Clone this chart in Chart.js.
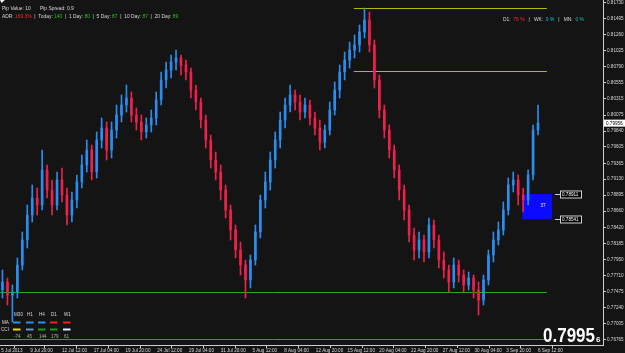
<!DOCTYPE html>
<html>
<head>
<meta charset="utf-8">
<script src="https://cdn.jsdelivr.net/npm/chart.js@4.4.0/dist/chart.umd.min.js"></script>
<style>
html, body { margin: 0; padding: 0; background: #141414; }
#wrap { width: 625px; height: 353px; }
</style>
</head>
<body>
<div id="wrap"><canvas id="chart"></canvas></div>
<script>
// H4 candles, each one covers 2.5 bars on the screen (about 10 hours)
var opens = [
  0.77498,0.77616,0.77424,0.77469,0.77866,0.78235,0.78603,0.78853,0.78750,0.79266,
  0.78971,0.78750,0.79119,0.78898,0.78603,0.78824,0.79089,0.79340,0.79561,0.79236,
  0.79708,0.79885,0.79561,0.79855,0.80076,0.80223,0.80326,0.80076,0.79973,0.79826,
  0.79929,0.80032,0.80297,0.80592,0.80739,0.80857,0.80916,0.80813,0.80709,0.80444,
  0.80268,0.80002,0.79708,0.79413,0.79236,0.78971,0.78677,0.78382,0.78087,0.77866,
  0.77646,0.77940,0.78353,0.78824,0.79089,0.79413,0.79708,0.80002,0.80223,0.80371,
  0.80268,0.80120,0.80223,0.80032,0.79885,0.79678,0.79855,0.80150,0.80444,0.80709,
  0.80886,0.81034,0.81107,0.81299,0.81475,0.81107,0.80592,0.80150,0.79855,0.79561,
  0.79266,0.78971,0.78677,0.78308,0.78087,0.78235,0.78058,0.78456,0.78235,0.77940,
  0.77793,0.77616,0.77866,0.77719,0.77572,0.77675,0.77498,0.77351,0.77646,0.78014,
  0.78235,0.78382,0.78677,0.79045,0.79119,0.78898,0.78824,0.79192,0.79855
];
var highs = [
  0.77793,0.77675,0.77572,0.77970,0.78353,0.78750,0.79045,0.79001,0.79561,0.79340,
  0.79119,0.79236,0.79295,0.79001,0.78942,0.79192,0.79487,0.79708,0.79634,0.79826,
  0.80032,0.79973,0.79973,0.80223,0.80371,0.80518,0.80415,0.80179,0.80076,0.80032,
  0.80150,0.80415,0.80709,0.80857,0.80960,0.81034,0.80960,0.80886,0.80768,0.80518,
  0.80326,0.80076,0.79781,0.79531,0.79340,0.79045,0.78750,0.78456,0.78205,0.77940,
  0.78014,0.78456,0.78898,0.79236,0.79531,0.79826,0.80120,0.80326,0.80518,0.80444,
  0.80371,0.80326,0.80297,0.80120,0.80002,0.79929,0.80268,0.80562,0.80813,0.81004,
  0.81151,0.81254,0.81402,0.81652,0.81593,0.81181,0.80665,0.80223,0.79929,0.79634,
  0.79340,0.79045,0.78750,0.78411,0.78353,0.78308,0.78559,0.78529,0.78308,0.78058,
  0.77866,0.77970,0.77940,0.77793,0.77763,0.77719,0.77616,0.77719,0.78087,0.78353,
  0.78500,0.78795,0.79148,0.79236,0.79192,0.79001,0.79266,0.79929,0.80223
];
var lows = [
  0.77380,0.77277,0.77027,0.77380,0.77793,0.78117,0.78500,0.78603,0.78677,0.78853,
  0.78603,0.78677,0.78795,0.78456,0.78500,0.78706,0.79001,0.79236,0.79119,0.79148,
  0.79590,0.79413,0.79443,0.79737,0.79973,0.80120,0.79973,0.79855,0.79708,0.79737,
  0.79826,0.79929,0.80223,0.80474,0.80621,0.80739,0.80665,0.80592,0.80326,0.80150,
  0.79885,0.79590,0.79295,0.79119,0.78824,0.78559,0.78235,0.77970,0.77719,0.77380,
  0.77528,0.77866,0.78264,0.78706,0.78971,0.79295,0.79590,0.79885,0.80120,0.80150,
  0.80002,0.80032,0.79929,0.79781,0.79561,0.79590,0.79781,0.80076,0.80326,0.80592,
  0.80768,0.80916,0.81004,0.81210,0.81004,0.80474,0.80032,0.79737,0.79443,0.79148,
  0.78824,0.78529,0.78205,0.77940,0.77970,0.77911,0.77970,0.78117,0.77822,0.77675,
  0.77469,0.77528,0.77616,0.77469,0.77498,0.77380,0.77130,0.77277,0.77572,0.77911,
  0.78161,0.78308,0.78603,0.78942,0.78750,0.78647,0.78750,0.79119,0.79781
];
var closes = [
  0.77616,0.77424,0.77469,0.77866,0.78235,0.78603,0.78853,0.78750,0.79266,0.78971,
  0.78750,0.79119,0.78898,0.78603,0.78824,0.79089,0.79340,0.79561,0.79236,0.79708,
  0.79885,0.79561,0.79855,0.80076,0.80223,0.80326,0.80076,0.79973,0.79826,0.79929,
  0.80032,0.80297,0.80592,0.80739,0.80857,0.80916,0.80813,0.80709,0.80444,0.80268,
  0.80002,0.79708,0.79413,0.79236,0.78971,0.78677,0.78382,0.78087,0.77866,0.77646,
  0.77940,0.78353,0.78824,0.79089,0.79413,0.79708,0.80002,0.80223,0.80371,0.80268,
  0.80120,0.80223,0.80032,0.79885,0.79678,0.79855,0.80150,0.80444,0.80709,0.80886,
  0.81034,0.81107,0.81299,0.81475,0.81107,0.80592,0.80150,0.79855,0.79561,0.79266,
  0.78971,0.78677,0.78308,0.78087,0.78235,0.78058,0.78456,0.78235,0.77940,0.77793,
  0.77616,0.77866,0.77719,0.77572,0.77675,0.77498,0.77351,0.77646,0.78014,0.78235,
  0.78382,0.78677,0.79045,0.79119,0.78898,0.78824,0.79192,0.79855,0.79956
];

// time axis labels (first one is the left edge of the chart)
var timeLabels = ["5 Jul 2013", "9 Jul 20:00", "12 Jul 12:00", "17 Jul 04:00", "19 Jul 20:00",
  "24 Jul 12:00", "29 Jul 04:00", "31 Jul 20:00", "5 Aug 12:00", "8 Aug 04:00", "12 Aug 20:00",
  "15 Aug 12:00", "20 Aug 04:00", "22 Aug 20:00", "27 Aug 12:00", "30 Aug 04:00",
  "3 Sep 20:00", "6 Sep 12:00"];

// price axis labels
var priceTicks = [0.81730, 0.81495, 0.81260, 0.81025, 0.80790, 0.80555, 0.80315, 0.80075,
  0.79840, 0.79605, 0.79365, 0.79130, 0.78895, 0.78660, 0.78420, 0.78185, 0.77950, 0.77710,
  0.77475, 0.77240, 0.77005, 0.76765];

// horizontal levels drawn on the chart
var yellowLevels = [0.81652, 0.80720];
var greenLevels = [0.77469, 0.76780];
var boxLevels = [0.78911, 0.78541];
var boxPips = "37";
var lastPrice = 0.79956;

// side panels
var adrParts = [["ADR: ", "w"], ["169.3%", "r"], ["  |  Today: ", "w"], ["140", "g"], ["  |  1 Day: ", "w"], ["80", "g"],
  ["  |  5 Day: ", "w"], ["87", "g"], ["  |  10 Day: ", "w"], ["87", "g"], ["  |  20 Day: ", "w"], ["89", "g"]];
var rangeParts = [["D1:  ", "w"], ["76 %", "r"], ["   |   WK:  ", "w"], ["0 %", "c"], ["   |   MN:  ", "w"], ["0 %", "c"]];
var tfNames = ["M30", "H1", "H4", "D1", "W1"];
var maColors = ["#2a8df0", "#2a8df0", "#2a8df0", "#ff1a1a", "#ff1a1a"];
var cciColors = ["#e8e000", "#5b9bd5", "#1a9a1a", "#1a9a1a", "#dff2ff"];
var cciValues = ["-74", "45", "144", "179", "61"];

var BULL = "#2a8df0", BEAR = "#f0204a";
var barsPerCandle = 2.5;
var posOf = function (i) { return barsPerCandle / 2 + barsPerCandle * i; };

var bodies = [], wicks = [], colors = [];
for (var i = 0; i < opens.length; i++) {
  bodies.push({ x: posOf(i), y: [opens[i], closes[i]] });
  wicks.push({ x: posOf(i), y: [lows[i], highs[i]] });
  colors.push(closes[i] >= opens[i] ? BULL : BEAR);
}

var timeTickPos = [0];
for (var k = 1; k < timeLabels.length; k++) timeTickPos.push(14.6 + 16 * (k - 1));

var SMALL = "4.6px 'Liberation Sans', Arial, sans-serif";
var txtColors = { w: "#d8d8d8", r: "#ff2a2a", g: "#22c322", c: "#10c8c8" };

function drawParts(ctx, parts, x, y) {
  ctx.textAlign = "left";
  ctx.textBaseline = "middle";
  parts.forEach(function (p) {
    ctx.fillStyle = txtColors[p[1]];
    ctx.fillText(p[0], x, y);
    x += ctx.measureText(p[0]).width;
  });
}

var overlay = {
  id: "overlay",
  beforeDraw: function (chart) {
    var ctx = chart.ctx;
    ctx.save();
    ctx.fillStyle = "#141414";
    ctx.fillRect(0, 0, chart.width, chart.height);
    ctx.restore();
  },
  beforeDatasetsDraw: function (chart) {
    var ctx = chart.ctx, x = chart.scales.x, y = chart.scales.y;
    ctx.save();
    // pip box
    var bx1 = x.getPixelForValue(263.2), bx2 = x.getPixelForValue(278.3);
    var by1 = y.getPixelForValue(boxLevels[0]), by2 = y.getPixelForValue(boxLevels[1]);
    ctx.fillStyle = "#0a0aff";
    ctx.fillRect(bx1, by1, bx2 - bx1, by2 - by1);
    ctx.fillStyle = "#e8e8ff";
    ctx.font = SMALL;
    ctx.textAlign = "center";
    ctx.textBaseline = "middle";
    ctx.fillText(boxPips, bx1 + 21, (by1 + by2) / 2 - 1);
    // levels
    var right = x.getPixelForValue(275.7);
    ctx.lineWidth = 1;
    ctx.strokeStyle = "#b8b800";
    yellowLevels.forEach(function (v) {
      var py = Math.round(y.getPixelForValue(v)) + 0.5;
      ctx.beginPath(); ctx.moveTo(x.getPixelForValue(178.4), py); ctx.lineTo(right, py); ctx.stroke();
    });
    ctx.strokeStyle = "#1fae1f";
    greenLevels.forEach(function (v) {
      var py = Math.round(y.getPixelForValue(v)) + 0.5;
      ctx.beginPath(); ctx.moveTo(0, py); ctx.lineTo(right, py); ctx.stroke();
    });
    ctx.restore();
  },
  afterDraw: function (chart) {
    var ctx = chart.ctx, x = chart.scales.x, y = chart.scales.y;
    ctx.save();
    ctx.font = SMALL;
    // box price tags
    boxLevels.forEach(function (v) {
      var py = Math.round(y.getPixelForValue(v)) + 0.5;
      ctx.strokeStyle = "#d0d0d0";
      ctx.beginPath(); ctx.moveTo(x.getPixelForValue(278.3) + 3, py); ctx.lineTo(560, py); ctx.stroke();
      ctx.fillStyle = "#000";
      ctx.fillRect(560, py - 3.5, 21, 7);
      ctx.strokeRect(560.5, py - 3.5, 21, 7);
      ctx.fillStyle = "#ffffff";
      ctx.textAlign = "left"; ctx.textBaseline = "middle";
      ctx.fillText(v.toFixed(5), 562, py + 0.3);
    });
    // last price tag on the axis
    var lp = y.getPixelForValue(lastPrice);
    ctx.fillStyle = "#ffffff";
    ctx.fillRect(604, lp - 3.5, 21, 7);
    ctx.fillStyle = "#000000";
    ctx.textAlign = "left"; ctx.textBaseline = "middle";
    ctx.fillText(lastPrice.toFixed(5), 606, lp + 0.3);
    // top left info
    ctx.fillStyle = "#f0f0f0";
    ctx.beginPath(); ctx.moveTo(0, 0); ctx.lineTo(5, 0); ctx.lineTo(1.5, 3); ctx.closePath(); ctx.fill();
    ctx.font = "4.9px 'Liberation Sans', Arial, sans-serif";
    drawParts(ctx, [["Pip Value: 10", "w"]], 2, 8.5);
    drawParts(ctx, [["Pip Spread: 0.9", "w"]], 40, 8.5);
    drawParts(ctx, adrParts, 2, 17);
    drawParts(ctx, rangeParts, 503, 20);
    // timeframe table
    ctx.font = SMALL;
    var cols = [13, 26, 38, 50, 63];
    ctx.fillStyle = "#d8d8d8";
    ctx.textAlign = "left"; ctx.textBaseline = "middle";
    tfNames.forEach(function (n, j) { ctx.fillText(n, cols[j] + 1, 315); });
    ctx.fillText("MA", 2, 322.5);
    ctx.fillText("CCI", 1, 329.5);
    maColors.forEach(function (c, j) { ctx.fillStyle = c; ctx.fillRect(cols[j], 321.5, 7.5, 2); });
    cciColors.forEach(function (c, j) { ctx.fillStyle = c; ctx.fillRect(cols[j], 328.5, 7.5, 2); });
    ctx.fillStyle = "#b0b0b0";
    cciValues.forEach(function (v, j) { ctx.fillText(v, cols[j] + 1, 337); });
    // big last price
    ctx.fillStyle = "#ffffff";
    ctx.textBaseline = "alphabetic";
    ctx.font = "bold 20px 'Liberation Sans', Arial, sans-serif";
    var big = lastPrice.toFixed(5);
    ctx.fillText(big.slice(0, 6), 543, 342, 52);
    ctx.font = "bold 8px 'Liberation Sans', Arial, sans-serif";
    ctx.fillText(big.slice(6), 596, 342);
    ctx.restore();
  }
};

new Chart(document.getElementById("chart"), {
  type: "bar",
  data: {
    datasets: [
      { label: "body", data: bodies, backgroundColor: colors, barThickness: 2, grouped: false, borderWidth: 0 },
      { label: "wick", data: wicks, backgroundColor: colors, barThickness: 1, grouped: false, borderWidth: 0 }
    ]
  },
  options: {
    responsive: true,
    maintainAspectRatio: false,
    animation: false,
    layout: { padding: 0 },
    plugins: { legend: { display: false }, tooltip: { enabled: false } },
    scales: {
      x: {
        type: "linear",
        min: 0,
        max: 304,
        offset: false,
        grid: { display: true, drawOnChartArea: false, tickLength: 3, color: "#cfcfcf" },
        border: { display: true, color: "#cfcfcf" },
        ticks: {
          autoSkip: false, maxRotation: 0, align: "start", padding: 0,
          color: "#d8d8d8", font: { family: "'Liberation Sans', Arial, sans-serif", size: 4.6, lineHeight: 1 },
          callback: function (v, i) { return " " + timeLabels[i]; }
        },
        afterBuildTicks: function (s) { s.ticks = timeTickPos.map(function (v) { return { value: v }; }); },
        afterFit: function (s) { s.height = 8; s.paddingLeft = 0; s.paddingRight = 0; }
      },
      y: {
        position: "right",
        min: 0.76688,
        max: 0.81770,
        grid: { display: true, drawOnChartArea: false, tickLength: 3, color: "#cfcfcf" },
        border: { display: true, color: "#cfcfcf" },
        ticks: {
          autoSkip: false, padding: 1,
          color: "#d8d8d8", font: { family: "'Liberation Sans', Arial, sans-serif", size: 4.6, lineHeight: 1 },
          callback: function (v) { return v.toFixed(5); }
        },
        afterBuildTicks: function (s) { s.ticks = priceTicks.map(function (v) { return { value: v }; }); },
        afterFit: function (s) { s.width = 22; s.paddingTop = 0; s.paddingBottom = 0; }
      }
    }
  },
  plugins: [overlay]
});
</script>
</body>
</html>
